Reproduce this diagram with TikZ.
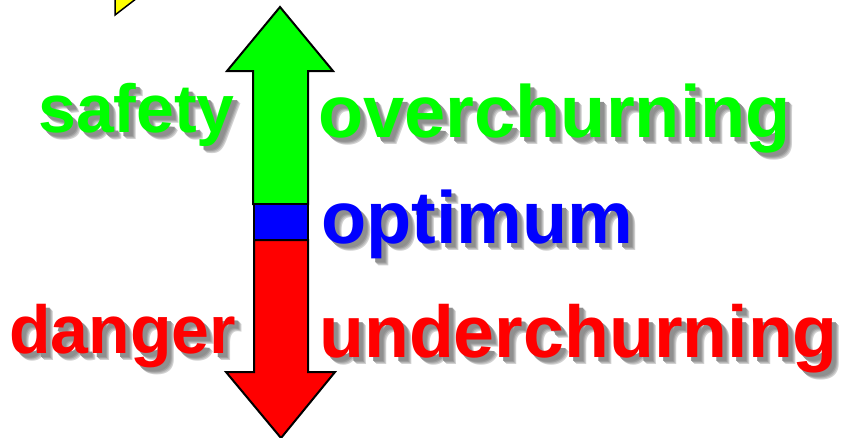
\documentclass[tikz,border=0pt]{standalone}
\usepackage{fontspec}
\setmainfont{Liberation Sans}
\definecolor{cgreen}{RGB}{0,255,0}
\definecolor{cblue}{RGB}{0,0,255}
\definecolor{cred}{RGB}{255,0,0}
\definecolor{cyellow}{RGB}{255,255,0}
\newcommand{\shadowcopy}[3]{\rlap{\hspace{#1pt}\raisebox{-#1pt}{\textcolor{black!#2}{#3}}}}
\newcommand{\shadowedword}[2]{%
  \shadowcopy{7}{18}{#2}\shadowcopy{6}{28}{#2}\shadowcopy{5}{38}{#2}\shadowcopy{4}{44}{#2}%
  \textcolor{#1}{#2}}
\tikzset{
  word/.style={anchor=base west, inner sep=0pt, font=\bfseries\fontsize{#1}{#1}\selectfont},
  outlined/.style={draw=black, line width=2pt, line join=miter},
}
\begin{document}
\begin{tikzpicture}[x=1pt,y=-1pt]
\useasboundingbox (0,0) rectangle (848,437);
\clip (0,0) rectangle (848,437);
% yellow fragment
\draw[outlined, fill=cyellow, line width=1.5pt] (115,-5) -- (115,15) -- (141,-5) -- cycle;
% words
\node[word=68] (safety) at (38,132) {\shadowedword{cgreen}{safety}};
\node[word=74] (over) at (318,137) {\shadowedword{cgreen}{overchurning}};
\node[word=74] (opt) at (321,243) {\shadowedword{cblue}{optimum}};
\node[word=68] (danger) at (9,353) {\shadowedword{cred}{danger}};
\node[word=73.5] (under) at (319,357) {\shadowedword{cred}{underchurning}};
% arrows
\draw[outlined, fill=cgreen] (253,204) -- (253,71) -- (227,71) -- (280,7) -- (333,71) -- (308,71) -- (308,204) -- cycle;
\draw[outlined, fill=cred] (254,240) -- (254,372) -- (226,372) -- (281,438) -- (335,372) -- (308,372) -- (308,240) -- cycle;
\draw[outlined, fill=cblue, line width=2.5pt] (254,204) rectangle (308,240);
\end{tikzpicture}
\end{document}
